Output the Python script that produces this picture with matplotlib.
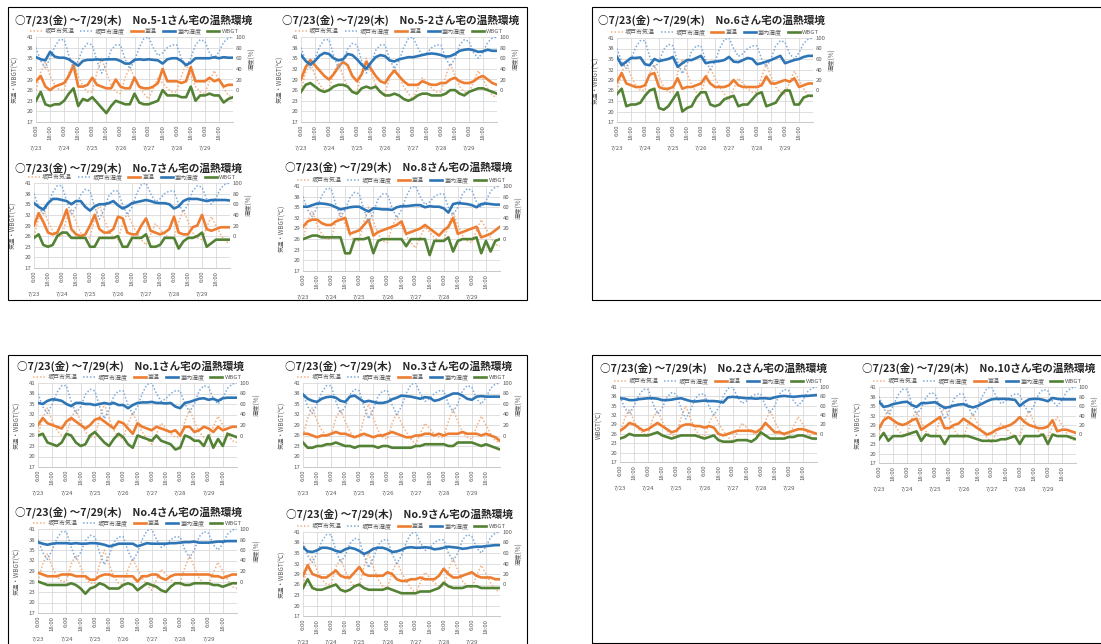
import numpy as np
import matplotlib.pyplot as plt
from matplotlib.patches import Rectangle
from matplotlib.lines import Line2D

plt.rcParams['font.family'] = ['Noto Sans CJK JP', 'DejaVu Sans']

W, H = 1101, 644

# 7/23 6:00 から 7/30 6:00 まで4時間ごと
hours = np.arange(0, 169, 4)

# 坂戸市の気温・湿度（全グラフ共通）
out_temp = [26, 31, 34, 30, 27.5, 26,
            26, 31, 33.5, 30, 27, 25.5,
            25.5, 31, 35, 31, 27.5, 25.5,
            25, 29.5, 32.5, 29.5, 27, 25,
            23.5, 26.5, 29.5, 28, 26.5, 25.5,
            25.5, 30, 33.5, 30, 27, 25.5,
            25, 28.5, 31.5, 29, 26.5, 24.5,
            24]
out_hum = [80, 55, 42, 60, 82, 95,
           95, 65, 42, 55, 78, 88,
           85, 55, 32, 50, 75, 85,
           85, 58, 40, 55, 80, 97,
           100, 80, 65, 70, 80, 85,
           85, 60, 45, 60, 85, 95,
           92, 70, 60, 72, 90, 98,
           100]

# 各宅の室温・WBGT・室内湿度
temp_51 = [28.5, 30, 27, 26, 27, 27.5, 28, 30, 33, 27, 27, 27.5, 29.5, 27.5, 27, 26.5, 26.5, 29, 27, 26.5,
           26.5, 29.5, 27, 26.5, 26.5, 27, 28, 32, 28.5, 28.5, 28.5, 28, 28.5, 32.5, 28.5, 28.5, 28.5, 29.5, 28.5, 29,
           27, 27.5, 27.5]
wbgt_51 = [23, 25.5, 22, 21.5, 22, 22, 23, 25, 26.5, 21.5, 23.5, 23, 24, 22.5, 21, 19.5, 21.5, 23, 22.5, 22,
           22, 25, 22.5, 22, 22, 22.5, 23, 26, 24.5, 24.5, 24.5, 24, 24, 27, 23, 24.5, 24.5, 25, 24.5, 24.5,
           22.5, 23.5, 24]
hum_51 = [62, 58, 56, 72, 63, 61, 61, 58, 52, 46, 55, 57, 57, 58, 57, 58, 58, 58, 55, 50,
          50, 57, 58, 57, 58, 57, 56, 50, 58, 60, 60, 55, 47, 52, 60, 60, 60, 60, 62, 60,
          62, 61, 61]

temp_52 = [29, 32.5, 34.5, 33, 31.5, 30, 29, 30.5, 32.5, 34, 33, 30, 28.5, 30.5, 34, 32, 30, 28.5, 28, 30,
           31.5, 30, 28.5, 27.5, 27.5, 27.5, 28.5, 28, 27.5, 27.5, 28, 28, 29, 29.5, 28.5, 28, 28, 28.5, 29.5, 30,
           29, 28, 27.5]
wbgt_52 = [25.5, 27.5, 28, 27, 26, 25.5, 26, 27, 27.5, 27.5, 27, 25.5, 25, 26.5, 27, 26.5, 27, 25.5, 24.5, 24.5,
           25, 24.5, 23.5, 23, 23.5, 24.5, 25, 25, 24.5, 24.5, 24.5, 25, 26, 26, 25, 24.5, 25.5, 26, 26.5, 26.5,
           26, 25.5, 25]
hum_52 = [66, 55, 48, 55, 65, 70, 68, 60, 56, 58, 68, 66, 58, 48, 40, 52, 62, 66, 64, 56,
          54, 58, 60, 62, 62, 64, 66, 68, 69, 68, 66, 63, 64, 68, 74, 76, 77, 75, 72, 73,
          76, 74, 74]

temp_6 = [28.5, 31, 28, 27.5, 27, 27, 27.5, 30.5, 31, 27, 26.5, 26.5, 27, 29.5, 26.5, 27, 27, 27.5, 28, 30,
          28, 27, 27, 27, 27.5, 29, 27.5, 27, 27, 27, 27, 27.5, 30, 28, 28, 28.5, 29, 28.5, 29.5, 27,
          27.5, 28, 28]
wbgt_6 = [25, 26.5, 21.5, 22, 22, 22.5, 24.5, 26, 26.5, 21, 20.5, 21.5, 23.5, 25.5, 20, 21, 21.5, 24, 25.5, 25.5,
          22, 21.5, 22, 23.5, 24, 24.5, 21.5, 22, 22, 23.5, 25, 25.5, 21.5, 22, 22.5, 24.5, 26, 26, 22, 22,
          24, 24.5, 24.5]
hum_6 = [64, 48, 55, 62, 62, 63, 50, 48, 60, 56, 58, 60, 64, 45, 52, 58, 58, 62, 66, 52,
         54, 55, 56, 58, 64, 55, 54, 58, 62, 60, 50, 52, 55, 58, 62, 66, 52, 55, 58, 60,
         64, 66, 66]

temp_7 = [29, 32.5, 30, 27, 26.5, 27, 30, 33.5, 28, 26.5, 26, 26.5, 29, 32, 28, 27, 27, 28, 31.5, 31,
          27, 26.5, 26.5, 29, 31, 27.5, 27, 26.5, 27, 28, 31.5, 27, 26.5, 26.5, 28.5, 29, 32, 28, 27.5, 28,
          28.5, 28.5, 28.5]
wbgt_7 = [25.5, 26.5, 23.5, 23, 23.5, 26, 27, 27, 25.5, 25.5, 25.5, 25.5, 23, 23, 25.5, 25.5, 25.5, 25.5, 26, 23,
          23, 25.5, 25.5, 25.5, 26.5, 23, 23, 23.5, 25.5, 25.5, 25.5, 22.5, 24.5, 25.5, 25.5, 26, 27, 23, 24, 25,
          25, 25, 25]
hum_7 = [62, 55, 50, 62, 70, 70, 68, 66, 60, 66, 66, 55, 48, 56, 60, 60, 62, 66, 58, 52,
         56, 62, 64, 66, 68, 66, 63, 62, 62, 60, 52, 56, 66, 70, 70, 70, 68, 66, 68, 68,
         68, 68, 67]

temp_8 = [29.5, 31, 31.5, 31.5, 30.5, 30, 30, 31, 31.5, 32, 27.5, 28, 28.5, 30, 31.5, 27, 28, 28.5, 29, 29.5,
          30, 31, 27.5, 28, 28.5, 29, 30, 29, 28, 27, 28.5, 29.5, 32, 27.5, 28, 28.5, 29, 29.5, 26.5, 27,
          27.5, 28.5, 29.5]
wbgt_8 = [26, 26.5, 27, 27, 26.5, 26.5, 26.5, 26.5, 26.5, 22, 22, 26, 26, 26, 26.5, 22, 25.5, 26, 26, 26,
          26, 26, 24, 26, 26, 26, 26, 21.5, 25.5, 25.5, 25.5, 26.5, 22.5, 25.5, 26, 26, 26, 26.5, 22, 25.5,
          22.5, 25.5, 26]
hum_8 = [61, 61, 64, 67, 67, 66, 64, 60, 56, 58, 60, 61, 61, 56, 52, 58, 57, 56, 56, 55,
         60, 62, 62, 63, 64, 64, 60, 62, 61, 61, 58, 50, 66, 68, 67, 66, 64, 60, 66, 67,
         66, 65, 65]

temp_1 = [29, 31, 29.5, 29, 28.5, 28, 30, 31, 30, 29, 28, 29, 30.5, 31, 30, 29, 28, 30, 29.5, 28,
          26.5, 29.5, 28.5, 28, 27.5, 28.5, 28, 27.5, 27, 27.5, 26, 28.5, 28.5, 27, 27.5, 28.5, 28, 27, 28.5, 27.5,
          28, 28.5, 28.5]
wbgt_1 = [26, 26.5, 24, 23.5, 23, 24, 26.5, 26, 24, 23, 23.5, 26, 27, 25.5, 24, 23, 25, 26.5, 25.5, 23.5,
          22.5, 26, 25.5, 25, 24.5, 26, 24.5, 24, 23.5, 22, 22.5, 26, 25.5, 24.5, 24.5, 23, 26, 22.5, 25, 23,
          26.5, 26, 25.5]
hum_1 = [62, 60, 66, 69, 68, 66, 60, 56, 62, 62, 60, 60, 58, 60, 62, 60, 62, 58, 58, 52,
         58, 62, 63, 63, 64, 62, 62, 61, 62, 55, 52, 62, 64, 67, 70, 71, 68, 70, 66, 71,
         72, 72, 72]

temp_3 = [26.5, 26.5, 26, 25.5, 26, 26, 26.5, 27, 26.5, 26.5, 26, 25.5, 26, 26.5, 26, 25.5, 26, 26, 26.5, 27,
          26.5, 26, 25.5, 25.5, 26, 26, 26.5, 26.5, 26, 26.5, 26, 26.5, 26.5, 26.5, 27, 26.5, 26.5, 26.5, 26, 26.5,
          26, 25.5, 24.5]
wbgt_3 = [24, 22.5, 22.5, 23, 23, 23.5, 23.5, 24, 23.5, 23, 23, 22.5, 23, 23, 23, 23, 22.5, 23, 23, 22.5,
          22.5, 22.5, 22.5, 22.5, 23, 23, 23.5, 23.5, 23.5, 23.5, 23.5, 23, 23, 24, 24, 24, 24, 23.5, 23, 23.5,
          23, 22.5, 22]
hum_3 = [78, 70, 66, 64, 70, 73, 74, 72, 66, 64, 74, 76, 70, 64, 66, 64, 62, 62, 64, 69,
         72, 76, 75, 74, 72, 70, 73, 72, 66, 68, 72, 76, 80, 80, 76, 70, 68, 74, 75, 74,
         74, 74, 74]

temp_4 = [28.5, 28, 27.5, 27.5, 27.5, 28, 28, 28, 27.5, 27.5, 27.5, 26.5, 26.5, 27.5, 28, 28, 27.5, 27.5, 27.5, 27.5,
          27.5, 26, 27.5, 27.5, 28, 28, 27, 26.5, 27.5, 28, 28, 28, 28, 28, 28, 28, 28, 27.5, 27.5, 27,
          27.5, 28, 28]
wbgt_4 = [26, 25.5, 25, 25, 25, 25, 25, 25.5, 25, 24, 22.5, 24, 24.5, 25.5, 25, 24, 24, 24, 25, 25.5,
          25, 23.5, 24.5, 25.5, 25, 24.5, 23.5, 23, 24.5, 25.5, 25.5, 25, 25, 25.5, 25.5, 25.5, 25.5, 25, 25, 24.5,
          25, 25.5, 25.5]
hum_4 = [75, 72, 70, 72, 73, 73, 73, 72, 73, 72, 72, 73, 73, 72, 70, 67, 69, 72, 72, 72,
         72, 67, 70, 73, 72, 72, 72, 72, 73, 73, 74, 75, 75, 76, 74, 74, 74, 75, 76, 76,
         77, 77, 77]

temp_9 = [28.5, 31.5, 29, 28.5, 28, 28, 29, 30, 28.5, 28, 28, 29.5, 31, 29, 28.5, 28.5, 28.5, 28.5, 29.5, 29,
          27.5, 27, 27, 27.5, 27.5, 28, 27.5, 27.5, 27.5, 28.5, 30.5, 29, 28, 28, 28.5, 29, 29.5, 28.5, 28, 28,
          28, 27.5, 27.5]
wbgt_9 = [25, 27.5, 25, 24.5, 24.5, 25, 25.5, 26, 24.5, 24, 24.5, 25.5, 26, 25, 24.5, 24.5, 24.5, 24.5, 25, 24.5,
          24, 23.5, 23.5, 23.5, 23.5, 24, 24, 24, 24.5, 25, 26.5, 25.5, 25, 25, 25, 25.5, 25.5, 25.5, 25, 25,
          25, 25, 25]
hum_9 = [71, 63, 62, 65, 70, 70, 68, 64, 62, 67, 70, 68, 64, 58, 62, 68, 70, 70, 67, 62,
         63, 66, 70, 71, 70, 70, 71, 70, 67, 68, 70, 72, 71, 70, 68, 69, 71, 72, 72, 73,
         74, 75, 75]

temp_2 = [27, 28, 29.5, 29, 28, 27, 27.5, 28.5, 29.5, 28.5, 27.5, 26.5, 27, 28.5, 29, 29, 28.5, 28.5, 28, 28.5,
          28, 26, 25.5, 26, 26.5, 27, 27, 27, 27, 26.5, 27.5, 29.5, 28, 26.5, 26.5, 26, 26.5, 27, 27.5, 27.5,
          27, 26.5, 26]
wbgt_2 = [24.5, 25, 26, 25.5, 25.5, 25.5, 25.5, 26, 26.5, 25.5, 25, 24.5, 25, 25.5, 25.5, 25.5, 25.5, 25, 24.5, 25,
          25.5, 24, 23.5, 23.5, 23.5, 24, 24, 24, 23.5, 24.5, 26.5, 25.5, 24.5, 24.5, 24.5, 24.5, 25, 25, 25.5, 25.5,
          25, 24.5, 24.5]
hum_2 = [76, 75, 72, 72, 74, 75, 76, 76, 75, 72, 72, 73, 75, 76, 73, 70, 69, 70, 71, 70,
         70, 69, 67, 78, 79, 78, 77, 76, 76, 75, 76, 76, 75, 78, 80, 81, 80, 79, 80, 81,
         81, 82, 83]

temp_10 = [28, 30.5, 31.5, 30.5, 29.5, 29, 29.5, 30.5, 31, 27.5, 28.5, 29.5, 30.5, 31.5, 28, 28, 29, 29.5, 31, 30,
           29, 28, 27, 26, 26.5, 27.5, 28, 28.5, 29, 30, 31.5, 30, 29, 28.5, 28, 28, 28.5, 30.5, 27, 27.5,
           27.5, 27, 26.5]
wbgt_10 = [24.5, 26.5, 24, 25.5, 25.5, 25.5, 26, 26.5, 27, 24, 26, 25.5, 25.5, 25.5, 23, 25.5, 25.5, 25.5, 25.5, 25.5,
           25, 24.5, 24, 24, 24, 24, 24.5, 24.5, 25, 25.5, 23, 25.5, 25.5, 25.5, 25.5, 26, 23, 26, 25.5, 25.5,
           25.5, 25, 24.5]
hum_10 = [69, 58, 60, 64, 66, 68, 69, 62, 58, 66, 66, 67, 68, 62, 56, 58, 61, 63, 64, 60,
          57, 60, 65, 70, 74, 75, 75, 75, 74, 73, 60, 68, 74, 75, 75, 73, 70, 77, 75, 74,
          74, 74, 74]

legend_labels = ['坂戸市気温', '坂戸市湿度', '室温', '室内湿度', 'WBGT']
time_labels = ['6:00', '18:00'] * 7
date_labels = ['7/23', '7/24', '7/25', '7/26', '7/27', '7/28', '7/29']

C_OUT_T = '#F4B183'
C_OUT_H = '#7EAADC'
C_TEMP = '#ED7D31'
C_HUM = '#2E75B6'
C_WBGT = '#548235'
C_TXT = '#595959'

fig = plt.figure(figsize=(W / 100, H / 100), dpi=100)


def px_axes(l, t, r, b):
    return fig.add_axes([l / W, 1 - b / H, (r - l) / W, (b - t) / H])


def draw_chart(name, rect, title_xy, temp, wbgt, hum, ylabel='気温・WBGT(℃)'):
    l, t, r, b = rect
    ax = px_axes(l, t, r, b)
    ax2 = ax.twinx()

    ax.plot(hours, out_temp, color=C_OUT_T, lw=1.1, ls=(0, (1, 1.3)))
    ax2.plot(hours, out_hum, color=C_OUT_H, lw=1.1, ls=(0, (1, 1.3)))
    ax.plot(hours, temp, color=C_TEMP, lw=1.9)
    ax2.plot(hours, hum, color=C_HUM, lw=1.9)
    ax.plot(hours, wbgt, color=C_WBGT, lw=1.9)

    ax.set_xlim(0, 168)
    ax.set_ylim(17, 41)
    ax.set_yticks(np.arange(17, 42, 3))
    ax2.set_ylim(-60, 100)
    ax2.set_yticks(np.arange(0, 101, 20))
    ax.set_xticks(np.arange(0, 168, 12))
    ax.set_xticklabels(time_labels, rotation=90)
    ax.grid(True, color='#D9D9D9', lw=0.6)
    ax.set_axisbelow(True)

    for a in (ax, ax2):
        for s in a.spines.values():
            s.set_visible(False)
        a.tick_params(length=0, labelsize=4.3, labelcolor=C_TXT, pad=2)
    ax.spines['bottom'].set_visible(True)
    ax.spines['bottom'].set_color('#BFBFBF')
    ax.spines['bottom'].set_linewidth(0.6)

    for d, lab in enumerate(date_labels):
        ax.annotate(lab, xy=(24 * d, 0), xycoords=('data', 'axes fraction'),
                    xytext=(0, -19), textcoords='offset points',
                    ha='center', va='center', fontsize=4.3, color=C_TXT)

    ax.set_ylabel(ylabel, fontsize=4.5, color=C_TXT)
    ax.yaxis.set_label_coords(-0.085, 0.5)
    ax2.set_ylabel('湿度(%)', fontsize=4.5, color=C_TXT, rotation=90, va='center')
    ax2.yaxis.set_label_coords(1.1, 0.74)

    handles = [Line2D([], [], color=C_OUT_T, lw=1.1, ls=(0, (1, 1.3))),
               Line2D([], [], color=C_OUT_H, lw=1.1, ls=(0, (1, 1.3))),
               Line2D([], [], color=C_TEMP, lw=1.9),
               Line2D([], [], color=C_HUM, lw=1.9),
               Line2D([], [], color=C_WBGT, lw=1.9)]
    ax.legend(handles, legend_labels, loc='center', bbox_to_anchor=(0.5, 1 + 6 / (b - t)),
              ncol=5, fontsize=4.3, frameon=False, handlelength=2.0,
              handletextpad=0.4, columnspacing=1.0, borderpad=0, labelcolor=C_TXT)

    fig.text(title_xy[0] / W, 1 - title_xy[1] / H,
             f'○7/23(金) ～7/29(木)　{name}さん宅の温熱環境',
             fontsize=7.7, weight='bold', ha='left', va='center', color='#262626')


# 外枠
for x0, y0, x1, y1 in [(8, 7, 527, 300), (592, 7, 1106, 300),
                       (8, 355, 527, 650), (592, 355, 1106, 643)]:
    fig.add_artist(Rectangle((x0 / W, 1 - y1 / H), (x1 - x0) / W, (y1 - y0) / H,
                             transform=fig.transFigure, fill=False,
                             edgecolor='black', lw=0.8))

draw_chart('No.5-1', (36, 37, 233, 122), (15, 20), temp_51, wbgt_51, hum_51)
draw_chart('No.5-2', (301, 37, 497, 122), (282, 20), temp_52, wbgt_52, hum_52)
draw_chart('No.7', (34, 183, 230, 268), (15, 168), temp_7, wbgt_7, hum_7)
draw_chart('No.8', (303, 186, 500, 271), (285, 167), temp_8, wbgt_8, hum_8)
draw_chart('No.6', (617, 38, 813, 122), (598, 20), temp_6, wbgt_6, hum_6)
draw_chart('No.1', (38, 383, 237, 467), (17, 366), temp_1, wbgt_1, hum_1)
draw_chart('No.3', (303, 383, 500, 467), (285, 366), temp_3, wbgt_3, hum_3)
draw_chart('No.4', (38, 529, 237, 613), (15, 512), temp_4, wbgt_4, hum_4)
draw_chart('No.9', (303, 532, 500, 616), (286, 514), temp_9, wbgt_9, hum_9)
draw_chart('No.2', (620, 387, 817, 462), (600, 368), temp_2, wbgt_2, hum_2, ylabel='WBGT(℃)')
draw_chart('No.10', (879, 387, 1076, 463), (862, 368), temp_10, wbgt_10, hum_10)

fig.savefig('out.png', dpi=100)
